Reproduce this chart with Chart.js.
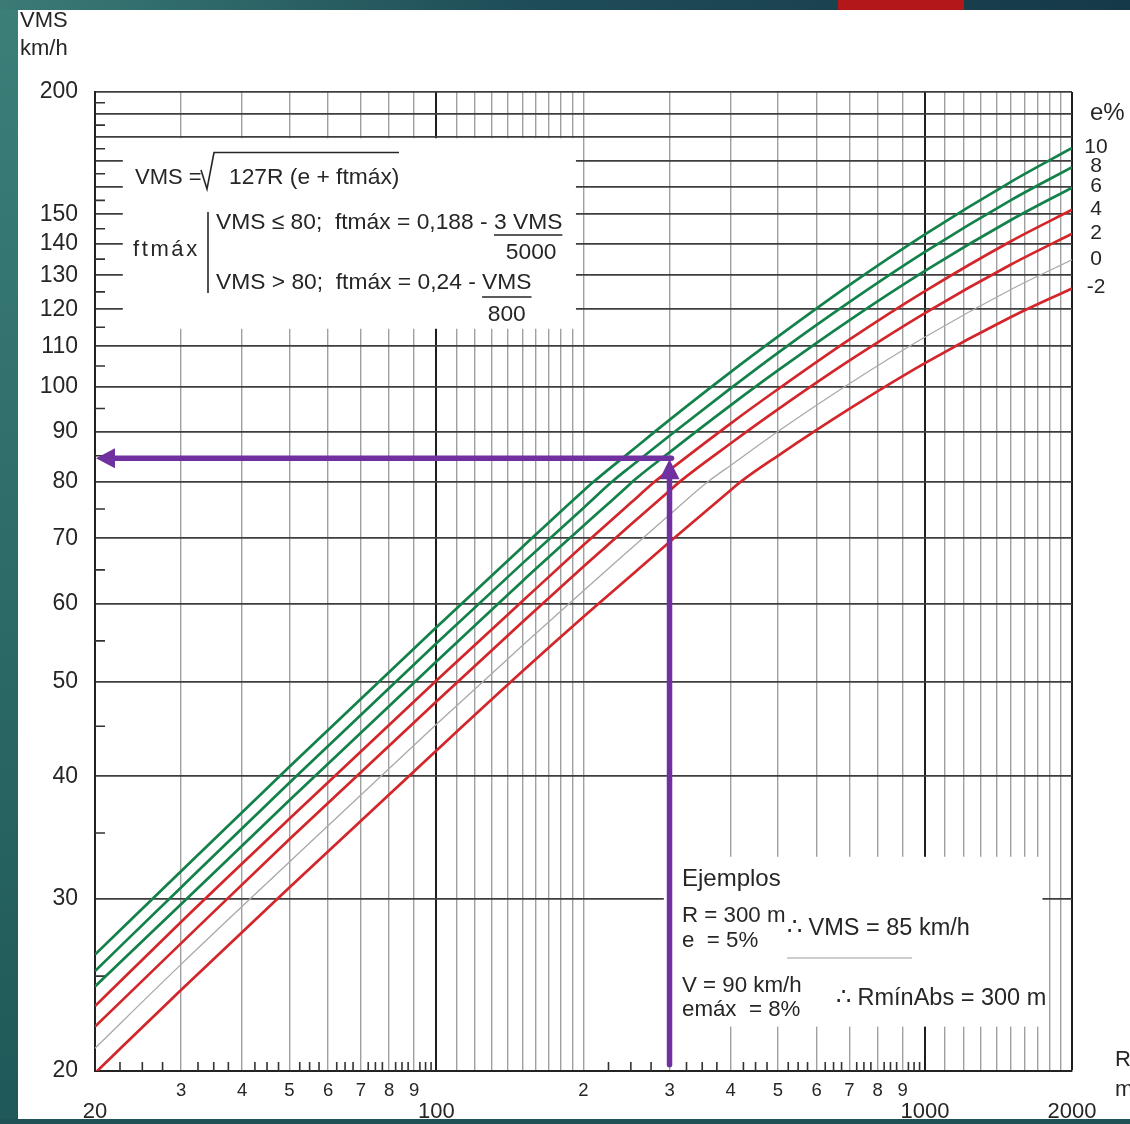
<!DOCTYPE html>
<html>
<head>
<meta charset="utf-8">
<title>VMS - R</title>
<script src="https://cdn.jsdelivr.net/npm/chart.js@4.4.1/dist/chart.umd.min.js"></script>
<style>
  html, body { margin: 0; padding: 0; }
  body { width: 1130px; height: 1124px; position: relative; overflow: hidden; background: #1f5a5a; }
  #side { position: absolute; left: 0; top: 0; width: 18px; height: 1124px; background: linear-gradient(#3c7f79, #2b6a67 55%, #1f5858); }
  #topbar { position: absolute; left: 0; top: 0; width: 1130px; height: 10px; background: linear-gradient(90deg, #3a7b76, #1f4e58 45%, #163947); }
  #redbar { position: absolute; left: 838px; top: 0; width: 126px; height: 10px; background: #b3171a; }
  #sheet { position: absolute; left: 18px; top: 10px; width: 1112px; height: 1109px; background: #fff; }
  #bottombar { position: absolute; left: 0; top: 1119px; width: 1130px; height: 5px; background: #1e5257; }
  #wrap { position: absolute; left: 0; top: 0; width: 1130px; height: 1124px; }
</style>
</head>
<body>
<div id="side"></div>
<div id="topbar"></div>
<div id="redbar"></div>
<div id="sheet"></div>
<div id="bottombar"></div>
<div id="wrap"><canvas id="chart"></canvas></div>
<script>
const chart = document.getElementById("chart");

// radio R (m) and VMS (km/h)
const radii = [20, 30, 50, 100, 150, 200, 250, 300, 400, 500, 700, 1000, 1500, 2000];
const superelevations = ["10", "8", "6", "4", "2", "0", "-2"];
const vmsE10 = [26.3, 32.0, 40.9, 56.8, 68.6, 78.3, 85.9, 92.5, 103.5, 112.5, 127.0, 143.1, 161.9, 175.3];
const vmsE8 = [25.3, 30.8, 39.4, 54.7, 66.0, 75.2, 82.9, 89.1, 99.6, 108.3, 122.0, 137.3, 155.1, 167.6];
const vmsE6 = [24.4, 29.6, 37.8, 52.4, 63.3, 72.1, 79.7, 85.7, 95.7, 103.9, 116.9, 131.3, 148.0, 159.7];
const vmsE4 = [23.3, 28.4, 36.2, 50.1, 60.4, 68.9, 76.1, 82.2, 91.7, 99.4, 111.7, 125.2, 140.8, 151.6];
const vmsE2 = [22.2, 27.0, 34.5, 47.7, 57.5, 65.5, 72.3, 78.3, 87.5, 94.8, 106.3, 118.9, 133.3, 143.3];
const vmsE0 = [21.1, 25.7, 32.7, 45.2, 54.4, 61.9, 68.3, 74.0, 83.1, 90.0, 100.7, 112.4, 125.7, 134.8];
const vmsEm2 = [19.9, 24.2, 30.8, 42.5, 51.2, 58.2, 64.1, 69.4, 78.4, 85.0, 94.9, 105.7, 117.8, 126.0];
// bend of each curve, where it crosses VMS = 80
const kinkRadii = [210, 229, 252, 280, 315, 360, 420];
const kinkSpeed = 80;

// example arrows
const exampleR = 300;
const exampleV = 84.5;
const exampleStartV = 20.3;

// axes
const xGridValues = [20, 30, 40, 50, 60, 70, 80, 90, 100, 110, 120, 130, 140, 150, 160, 170, 180, 190, 200,
  300, 400, 500, 600, 700, 800, 900, 1000, 1100, 1200, 1300, 1400, 1500, 1600, 1700, 1800, 1900, 2000];
const xDarkLines = [100, 1000, 2000];
const xDigitTicks = [30, 40, 50, 60, 70, 80, 90, 200, 300, 400, 500, 600, 700, 800, 900];
const xDigitLabels = ["3", "4", "5", "6", "7", "8", "9", "2", "3", "4", "5", "6", "7", "8", "9"];
const xMainTicks = [20, 100, 1000, 2000];
const xMinorTicks = [22.5, 25, 27.5, 32.5, 35, 37.5, 42.5, 45, 47.5, 52.5, 55, 57.5, 62.5, 65, 67.5,
  72.5, 75, 77.5, 82.5, 85, 87.5, 92.5, 95, 97.5, 225, 250, 275, 325, 350, 375, 425, 450, 475,
  525, 550, 575, 625, 650, 675, 725, 750, 775, 825, 850, 875, 925, 950, 975];
const yGridValues = [20, 30, 40, 50, 60, 70, 80, 90, 100, 110, 120, 130, 140, 150, 160, 170, 180, 190, 200];
const yLabelTicks = [20, 30, 40, 50, 60, 70, 80, 90, 100, 110, 120, 130, 140, 150, 200];
const yMinorTicks = [25, 35, 45, 55, 65, 75, 85, 95, 105, 115, 125, 135, 145, 155, 165, 175, 185, 195];

const FONT = "'Liberation Sans', Arial, Helvetica, sans-serif";
const NARROW = "'Liberation Sans Narrow', 'Liberation Sans', Arial, sans-serif";
const INK = "#262626";
const GREEN = "#13824a";
const RED = "#d3262b";
const GRAY = "#a9a9a9";
const PURPLE = "#7030a0";

const seriesValues = [vmsE10, vmsE8, vmsE6, vmsE4, vmsE2, vmsE0, vmsEm2];
const seriesColors = [GREEN, GREEN, GREEN, RED, RED, GRAY, RED];

function curvePoints(values, kinkR) {
  const pts = radii.map((r, i) => ({ x: r, y: values[i] }));
  pts.push({ x: kinkR, y: kinkSpeed });
  return pts.sort((a, b) => a.x - b.x);
}

const datasets = seriesValues.map((values, i) => ({
  label: "e = " + superelevations[i] + "%",
  data: curvePoints(values, kinkRadii[i]),
  showLine: true,
  borderColor: seriesColors[i],
  borderWidth: seriesColors[i] === GRAY ? 1.3 : 2.7,
  pointRadius: 0,
  cubicInterpolationMode: "monotone",
}));

function line(ctx, x1, y1, x2, y2) {
  ctx.beginPath();
  ctx.moveTo(x1, y1);
  ctx.lineTo(x2, y2);
  ctx.stroke();
}

function spaced(ctx, text, x, y, gap) {
  for (const ch of text) {
    ctx.fillText(ch, x, y);
    x += ctx.measureText(ch).width + gap;
  }
}

const decor = {
  id: "decor",
  beforeDatasetsDraw(c) {
    const { ctx } = c;
    const x = c.scales.x;
    const y = c.scales.y;
    ctx.save();

    // short ticks on the left and bottom axes
    ctx.strokeStyle = "#333";
    ctx.lineWidth = 1.6;
    ctx.beginPath();
    yMinorTicks.forEach((v) => {
      const p = y.getPixelForValue(v);
      ctx.moveTo(x.left, p);
      ctx.lineTo(x.left + 10, p);
    });
    xMinorTicks.forEach((v) => {
      const p = x.getPixelForValue(v);
      ctx.moveTo(p, y.bottom);
      ctx.lineTo(p, y.bottom - 9);
    });
    ctx.stroke();

    // white panels that hide the grid
    ctx.fillStyle = "#fff";
    const panel = (r0, r1, v0, v1) => {
      const l = x.getPixelForValue(r0);
      const r = x.getPixelForValue(r1);
      const t = y.getPixelForValue(v1);
      const b = y.getPixelForValue(v0);
      ctx.fillRect(l, t, r - l, b - t);
    };
    panel(22.8, 193, 114.6, 179.4);
    panel(292, 1740, 22.2, 33.1);

    // formula
    ctx.fillStyle = INK;
    ctx.strokeStyle = INK;
    ctx.font = "22px " + FONT;
    ctx.textBaseline = "alphabetic";
    ctx.textAlign = "left";
    ctx.fillText("VMS =", 135, 184);
    ctx.lineWidth = 1.6;
    ctx.beginPath();
    ctx.moveTo(201, 170);
    ctx.lineTo(207, 189);
    ctx.lineTo(214, 152.5);
    ctx.lineTo(399, 152.5);
    ctx.stroke();
    ctx.font = "22.8px " + FONT;
    ctx.fillText("127R (e + ftmáx)", 229, 184);

    ctx.font = "22px " + FONT;
    spaced(ctx, "ftmáx", 133, 256, 2.6);
    ctx.lineWidth = 1.6;
    line(ctx, 208, 212, 208, 293);

    ctx.font = "22.8px " + FONT;
    let head = "VMS \u2264 80;  ftmáx = 0,188 - ";
    let tail = "3 VMS";
    let x0 = 216 + ctx.measureText(head).width;
    let w = ctx.measureText(tail).width;
    ctx.fillText(head, 216, 229);
    ctx.fillText(tail, x0, 229);
    line(ctx, x0, 235, x0 + w, 235);
    ctx.textAlign = "center";
    ctx.fillText("5000", x0 + w / 2 + 3, 259);
    ctx.textAlign = "left";

    head = "VMS > 80;  ftmáx = 0,24 - ";
    tail = "VMS";
    x0 = 216 + ctx.measureText(head).width;
    w = ctx.measureText(tail).width;
    ctx.fillText(head, 216, 289);
    ctx.fillText(tail, x0, 289);
    line(ctx, x0, 297, x0 + w, 297);
    ctx.textAlign = "center";
    ctx.fillText("800", x0 + w / 2, 321);
    ctx.textAlign = "left";

    // examples
    ctx.font = "24px " + FONT;
    ctx.fillText("Ejemplos", 682, 886);
    ctx.font = "22.3px " + FONT;
    ctx.fillText("R = 300 m", 682, 922);
    ctx.fillText("e  = 5%", 682, 947);
    ctx.fillText("V = 90 km/h", 682, 992);
    ctx.fillText("emáx  = 8%", 682, 1016);
    ctx.font = "23.5px " + FONT;
    ctx.fillText("\u2234 VMS = 85 km/h", 787, 935);
    ctx.fillText("\u2234 RmínAbs = 300 m", 836, 1005);
    ctx.strokeStyle = "#bdbdbd";
    ctx.lineWidth = 1.5;
    line(ctx, 787, 958, 912, 958);

    ctx.restore();
  },
  afterDatasetsDraw(c) {
    const { ctx } = c;
    const x = c.scales.x;
    const y = c.scales.y;
    ctx.save();

    // example arrows
    const px = x.getPixelForValue(exampleR);
    const py = y.getPixelForValue(exampleV);
    const pb = y.getPixelForValue(exampleStartV);
    ctx.strokeStyle = PURPLE;
    ctx.fillStyle = PURPLE;
    ctx.lineWidth = 5.5;
    ctx.lineCap = "round";
    line(ctx, px, pb, px, py + 20);
    line(ctx, px + 2, py, x.left + 18, py);
    ctx.beginPath();
    ctx.moveTo(px, py + 1);
    ctx.lineTo(px - 10, py + 21);
    ctx.lineTo(px + 10, py + 21);
    ctx.closePath();
    ctx.fill();
    ctx.beginPath();
    ctx.moveTo(x.left + 1, py);
    ctx.lineTo(x.left + 20, py - 10);
    ctx.lineTo(x.left + 20, py + 10);
    ctx.closePath();
    ctx.fill();

    // e% labels at the curve ends
    ctx.fillStyle = INK;
    ctx.textAlign = "left";
    ctx.textBaseline = "alphabetic";
    ctx.font = "24px " + FONT;
    ctx.fillText("e%", 1090, 120);
    ctx.font = "21px " + NARROW;
    ctx.textAlign = "center";
    ctx.textBaseline = "middle";
    seriesValues.forEach((values, i) => {
      ctx.fillText(superelevations[i], 1096, y.getPixelForValue(values[values.length - 1]) - 1);
    });

    // axis names
    ctx.textAlign = "left";
    ctx.textBaseline = "alphabetic";
    ctx.font = "22px " + FONT;
    ctx.fillText("VMS", 20, 27);
    ctx.fillText("km/h", 20, 55);
    ctx.fillText("R", 1115, 1066);
    ctx.fillText("m", 1115, 1096);
    ctx.restore();
  },
};

new Chart(chart, {
  type: "scatter",
  data: { datasets },
  options: {
    responsive: true,
    maintainAspectRatio: false,
    animation: false,
    events: [],
    layout: { padding: { left: 0, top: 92, right: 58, bottom: 0 } },
    plugins: {
      legend: { display: false },
      tooltip: { enabled: false },
    },
    scales: {
      x: {
        type: "logarithmic",
        position: "bottom",
        min: 20,
        max: 2000,
        bounds: "data",
        afterBuildTicks: (s) => {
          s.ticks = xGridValues.map((v) => ({ value: v }));
        },
        afterFit: (s) => {
          s.height = 28;
        },
        grid: {
          drawTicks: false,
          color: (ctx) => (xDarkLines.includes(ctx.tick.value) ? "#1e1e1e" : "#a0a0a0"),
          lineWidth: (ctx) => (xDarkLines.includes(ctx.tick.value) ? 2 : 1.4),
        },
        border: { display: true, color: "#222", width: 2 },
        ticks: {
          autoSkip: false,
          maxRotation: 0,
          minRotation: 0,
          padding: 9,
          color: INK,
          font: { family: FONT, size: 18.5 },
          callback: (v) => {
            const i = xDigitTicks.indexOf(v);
            return i >= 0 ? xDigitLabels[i] : "";
          },
        },
      },
      x2: {
        type: "logarithmic",
        position: "bottom",
        min: 20,
        max: 2000,
        bounds: "data",
        afterBuildTicks: (s) => {
          s.ticks = xMainTicks.map((v) => ({ value: v }));
        },
        afterFit: (s) => {
          s.height = 25;
        },
        grid: { display: false, drawTicks: false },
        border: { display: false },
        ticks: {
          autoSkip: false,
          maxRotation: 0,
          minRotation: 0,
          padding: 0,
          color: INK,
          font: { family: FONT, size: 22 },
          callback: (v) => String(v),
        },
      },
      y: {
        type: "logarithmic",
        position: "left",
        min: 20,
        max: 200,
        bounds: "data",
        afterBuildTicks: (s) => {
          s.ticks = yGridValues.map((v) => ({ value: v }));
        },
        afterFit: (s) => {
          s.width = 95;
        },
        grid: { drawTicks: false, color: "#3e3e3e", lineWidth: 1.8 },
        border: { display: true, color: "#222", width: 2 },
        ticks: {
          autoSkip: false,
          padding: 17,
          color: INK,
          font: { family: FONT, size: 23 },
          callback: (v) => (yLabelTicks.includes(v) ? String(v) : ""),
        },
      },
    },
  },
  plugins: [decor],
});
</script>
</body>
</html>
